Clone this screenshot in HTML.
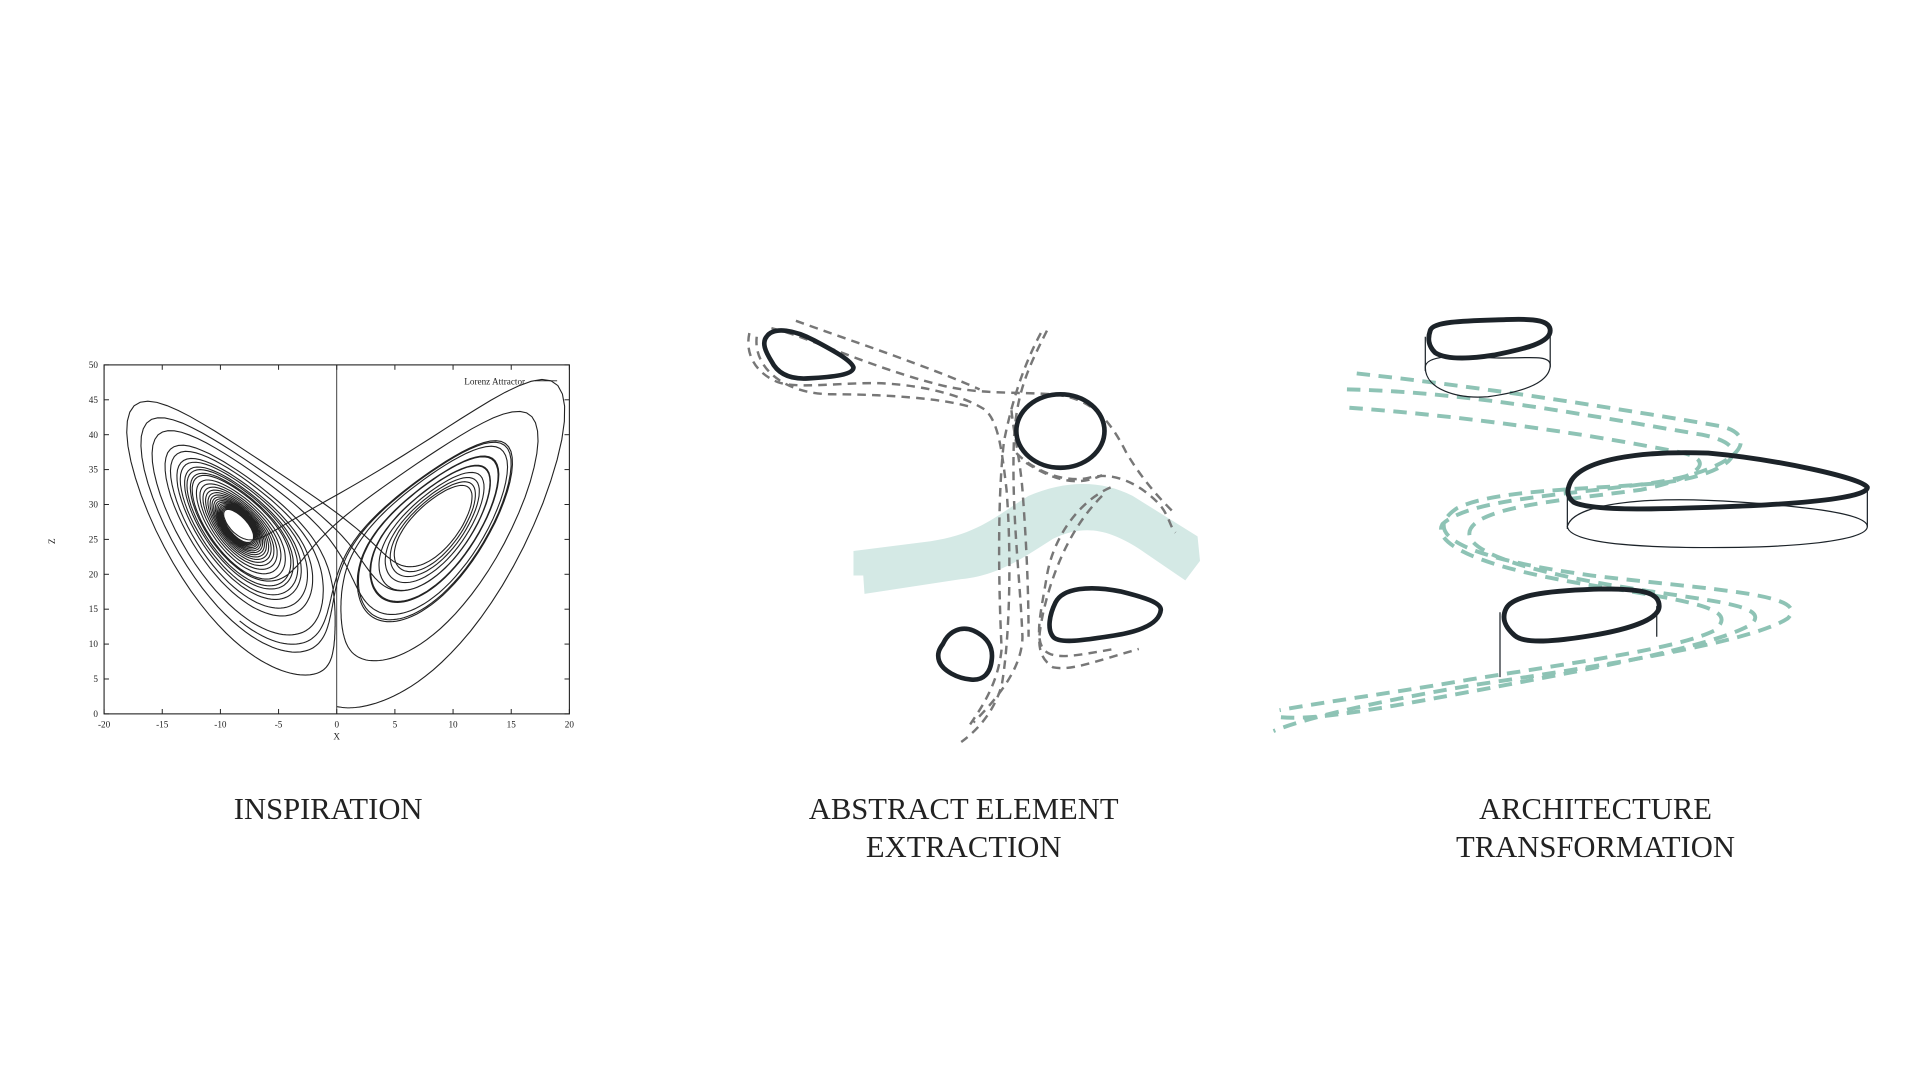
<!DOCTYPE html>
<html><head><meta charset="utf-8"><style>
html,body{margin:0;padding:0;background:#fff;}
svg{display:block;}
text{font-family:"Liberation Serif",serif;}
</style></head><body>
<svg id="s" width="1920" height="1080" viewBox="0 0 1568 882" preserveAspectRatio="none" xmlns="http://www.w3.org/2000/svg">
<rect width="1568" height="882" fill="#fff"/>
<g stroke="#222" fill="none" stroke-width="0.9">
<rect x="85" y="298" width="380" height="285"/>
<line x1="275" y1="298" x2="275" y2="583" stroke-width="0.7"/>
<line x1="437" y1="311" x2="455" y2="311" stroke-width="0.7"/>
</g>
<g id="ticks" stroke="#222" stroke-width="0.8"></g>
<g font-family="Liberation Sans, sans-serif" font-size="7.5" fill="#222" id="tl"></g>
<rect x="372" y="305" width="64" height="11" fill="#fff"/>
<text x="404" y="314" font-family="Liberation Sans, sans-serif" font-size="7.5" fill="#222" text-anchor="middle">Lorenz Attractor</text>
<text x="275" y="604" font-family="Liberation Sans, sans-serif" font-size="7.5" fill="#222" text-anchor="middle">X</text>
<text x="45" y="442" font-family="Liberation Sans, sans-serif" font-size="7.5" fill="#222" text-anchor="middle" transform="rotate(-90 45 442)">Z</text>
<path id="lor" fill="none" stroke="#222" stroke-width="0.9"/>

<path d="M697,450 L760,442 C800,436 815,420 840,405 C870,392 900,392 925,405 L978,438 L980,458 L968,474 L930,448 C905,432 885,428 860,440 C835,456 815,470 785,473 L706,485 L705,470 L697,470 Z" fill="#d4e9e5"/>
<g fill="none" stroke="#777" stroke-width="2" stroke-dasharray="7,5">
<path d="M612,272 C608,290 618,305 635,312 C650,318 690,312 720,313 C760,315 790,325 805,335 C815,345 818,365 822,400 C826,450 825,520 818,560 C812,580 800,595 785,606"/>
<path d="M618,275 C615,300 640,322 680,322 C720,322 770,325 795,333"/>
<path d="M630,268 C660,275 710,300 770,315 C800,322 830,320 860,322 C890,325 905,340 920,370 C935,395 950,410 960,420"/>
<path d="M650,262 C700,280 760,300 800,318"/>
<path d="M855,270 C840,300 830,320 828,360 C826,420 833,470 835,520 C835,545 815,570 795,590"/>
<path d="M850,272 C835,300 826,330 820,360 C815,400 815,470 818,530 C815,560 800,580 790,595"/>
<path d="M830,370 C845,385 870,395 890,390 C910,385 930,395 945,410 C955,420 955,430 960,435"/>
<path d="M838,378 C860,392 880,398 900,388"/>
<path d="M907,398 C880,410 860,440 855,470 C850,500 845,520 852,530 C860,540 880,535 910,530"/>
<path d="M900,405 C875,430 860,465 852,500 C848,520 845,535 860,545 C875,548 895,540 930,530"/>
<path d="M826,335 C828,355 833,375 835,400 C838,440 840,480 840,520"/>
</g>
<g fill="none" stroke="#1c2329" stroke-width="3.8" stroke-linejoin="round">
<path d="M626,275 C632,266 650,270 665,278 C680,286 695,294 697,300 C697,306 680,308 660,309 C645,310 635,305 630,295 C625,287 622,280 626,275 Z"/>
<ellipse cx="866" cy="352" rx="36" ry="30"/>
<path d="M862,492 C868,480 890,478 915,483 C935,488 948,492 948,498 C947,508 935,515 910,519 C885,523 865,526 860,520 C855,514 857,502 862,492 Z"/>
<path d="M770,526 C775,515 785,511 795,515 C806,520 811,528 810,538 C809,550 803,556 793,555 C782,554 770,548 767,540 C765,534 767,530 770,526 Z"/>
</g>

<g fill="none" stroke="#8ec3b5" stroke-width="3.2" stroke-dasharray="11,7">
<path d="M1100,318 C1200,320 1300,340 1390,355 C1440,365 1410,390 1350,395 C1290,400 1220,400 1190,415 C1160,435 1190,455 1300,470 C1400,482 1480,485 1460,505 C1430,525 1300,545 1200,560 C1130,572 1070,585 1040,597"/>
<path d="M1102,333 C1200,340 1300,355 1375,370 C1405,378 1380,392 1340,400 C1280,408 1230,412 1208,425 C1185,440 1210,458 1300,475 C1380,490 1450,492 1430,510 C1400,528 1290,548 1200,565 C1130,578 1070,590 1040,585"/>
<path d="M1108,305 C1200,315 1300,330 1405,348 C1440,356 1420,385 1345,395 C1270,405 1200,408 1178,428 C1170,442 1200,462 1300,478 C1390,492 1420,498 1400,515 C1370,530 1280,542 1200,555 C1130,567 1070,575 1045,580"/>
</g>
<g fill="none" stroke="#1c2329" stroke-linejoin="round">
<path d="M1164,300 C1164,290 1190,290 1215,292 C1240,294 1266,288 1266,298 C1266,312 1245,320 1215,324 C1190,326 1164,318 1164,300 Z" stroke-width="1"/>
<line x1="1164" y1="275" x2="1164" y2="303" stroke-width="1"/>
<line x1="1266" y1="272" x2="1266" y2="300" stroke-width="1"/>
<path d="M1168,270 C1170,262 1200,262 1230,261 C1255,260 1266,262 1266,270 C1266,280 1245,285 1220,290 C1195,294 1180,293 1172,288 C1166,282 1166,276 1168,270 Z" stroke-width="4"/>
<path d="M1280,430 C1285,410 1350,405 1420,410 C1480,414 1525,420 1525,430 C1525,440 1480,446 1420,447 C1350,448 1282,445 1280,430 Z" stroke-width="1"/>
<line x1="1280" y1="400" x2="1280" y2="432" stroke-width="1"/>
<line x1="1525" y1="398" x2="1525" y2="430" stroke-width="1"/>
<path d="M1282,395 C1290,375 1340,368 1395,370 C1450,375 1520,390 1525,398 C1525,405 1490,410 1430,413 C1360,416 1300,418 1285,410 C1279,405 1280,400 1282,395 Z" stroke-width="4"/>
<line x1="1225" y1="500" x2="1225" y2="553" stroke-width="1"/>
<line x1="1353" y1="495" x2="1353" y2="520" stroke-width="1"/>
<path d="M1230,497 C1236,485 1270,482 1310,481 C1345,481 1355,485 1355,495 C1355,506 1330,514 1300,519 C1270,524 1245,526 1237,519 C1229,512 1226,505 1230,497 Z" stroke-width="4"/>
</g>

<g font-size="25" fill="#222" text-anchor="middle">
<text x="268" y="669">INSPIRATION</text>
<text x="787" y="669">ABSTRACT ELEMENT</text>
<text x="787" y="700">EXTRACTION</text>
<text x="1303" y="669">ARCHITECTURE</text>
<text x="1303" y="700">TRANSFORMATION</text>
</g>
</svg>
<script>
(function(){
var ns="http://www.w3.org/2000/svg";
function X(x){return 275+x*9.5;} function Z(z){return 583-z*5.7;}
var t=document.getElementById('ticks'),tl=document.getElementById('tl');
function ln(a,b,c,d){var l=document.createElementNS(ns,'line');l.setAttribute('x1',a);l.setAttribute('y1',b);l.setAttribute('x2',c);l.setAttribute('y2',d);t.appendChild(l);}
function tx(x,y,s,anc){var e=document.createElementNS(ns,'text');e.setAttribute('x',x);e.setAttribute('y',y);e.setAttribute('text-anchor',anc);e.textContent=s;tl.appendChild(e);}
for(var z=0;z<=50;z+=5){var y=Z(z);ln(85,y,89,y);ln(461,y,465,y);tx(80,y+2.5,String(z),'end');}
for(var x=-20;x<=20;x+=5){var px=X(x);ln(px,583,px,579);ln(px,298,px,302);tx(px,594,String(x),'middle');}
var s=10,r=28,b=8/3,dt=0.004,d='';
var X0=0.0,Y0=1.0,Z0=1.05;
function f(x,y,z){return [s*(y-x),x*(r-z)-y,x*y-b*z];}
d='M'+X(X0).toFixed(1)+','+Z(Z0).toFixed(1);
for(var i=0;i<7000;i++){
var k1=f(X0,Y0,Z0),k2=f(X0+k1[0]*dt/2,Y0+k1[1]*dt/2,Z0+k1[2]*dt/2),k3=f(X0+k2[0]*dt/2,Y0+k2[1]*dt/2,Z0+k2[2]*dt/2),k4=f(X0+k3[0]*dt,Y0+k3[1]*dt,Z0+k3[2]*dt);
X0+=dt/6*(k1[0]+2*k2[0]+2*k3[0]+k4[0]);Y0+=dt/6*(k1[1]+2*k2[1]+2*k3[1]+k4[1]);Z0+=dt/6*(k1[2]+2*k2[2]+2*k3[2]+k4[2]);
if(i%2==0)d+='L'+X(X0).toFixed(1)+','+Z(Z0).toFixed(1);}
document.getElementById('lor').setAttribute('d',d);
})();
</script>
</body></html>
